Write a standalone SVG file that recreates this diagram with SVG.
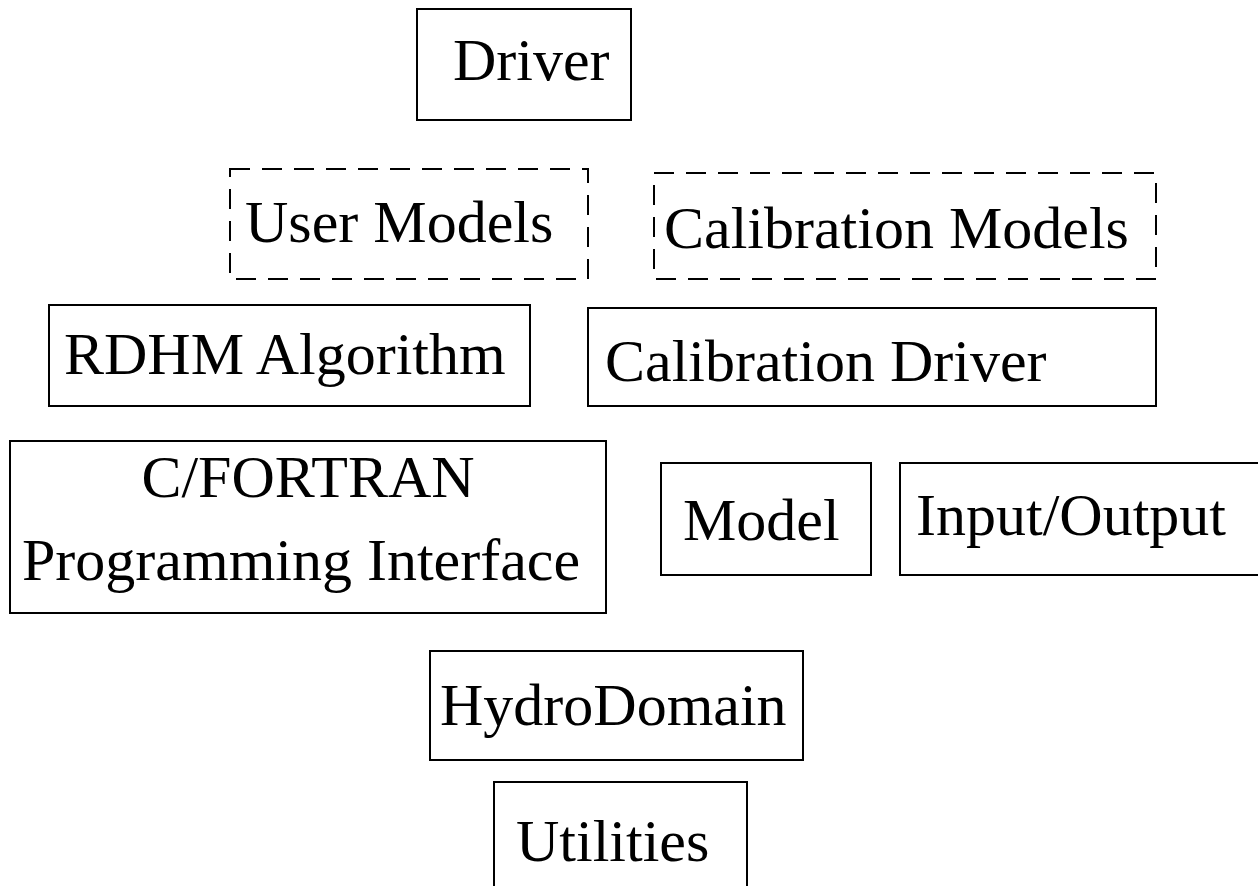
<svg xmlns="http://www.w3.org/2000/svg" width="1258" height="886" viewBox="0 0 1258 886">
<style>
.b{fill:#fff;stroke:#000;stroke-width:2}
.d{fill:none;stroke:#000;stroke-width:2;stroke-dasharray:20 12}
text{font-family:"Liberation Serif","Times New Roman",serif;font-size:60px;fill:#000}
</style>
<rect width="1258" height="886" fill="#fff"/>
<g id="driver"><rect class="b" x="417" y="9" width="214" height="111"/><text x="453" y="80">Driver</text></g>
<g id="user-models"><rect class="d" x="230" y="169" width="358" height="110"/><text x="245" y="242">User Models</text></g>
<g id="calibration-models"><rect class="d" x="654" y="173" width="502" height="106"/><text x="664" y="248">Calibration Models</text></g>
<g id="rdhm"><rect class="b" x="49" y="305" width="481" height="101"/><text x="64" y="374">RDHM Algorithm</text></g>
<g id="calibration-driver"><rect class="b" x="588" y="308" width="568" height="98"/><text x="605" y="381">Calibration Driver</text></g>
<g id="cfortran"><rect class="b" x="10" y="441" width="596" height="172"/><text x="308" y="497" text-anchor="middle">C/FORTRAN</text><text x="22" y="580">Programming Interface</text></g>
<g id="model"><rect class="b" x="661" y="463" width="210" height="112"/><text x="683" y="540">Model</text></g>
<g id="io"><rect class="b" x="900" y="463" width="360" height="112"/><text x="916" y="535">Input/Output</text></g>
<g id="hydrodomain"><rect class="b" x="430" y="651" width="373" height="109"/><text x="440" y="725">HydroDomain</text></g>
<g id="utilities"><rect class="b" x="494" y="782" width="253" height="120"/><text x="516" y="861">Utilities</text></g>
<g id="connectors"></g>
</svg>
